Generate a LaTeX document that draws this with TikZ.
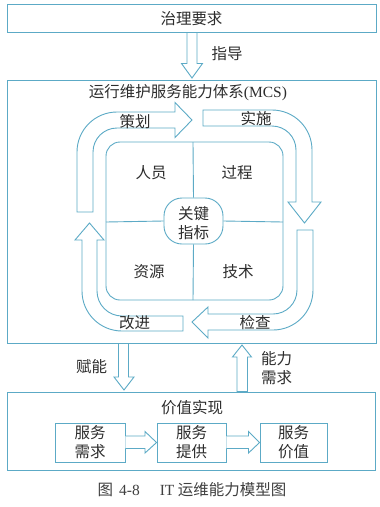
\documentclass[tikz,border=0pt]{standalone}
\usepackage{fontspec}
\setmainfont{Liberation Serif}
\newfontfamily\cjk{Noto Sans CJK SC}
\definecolor{lineblue}{RGB}{92,170,198}
\definecolor{textgray}{RGB}{45,45,45}
\begin{document}
\begin{tikzpicture}[x=1pt,y=-1pt,
  ln/.style={draw=lineblue, line width=0.9pt},
  box/.style={ln, inner sep=0pt},
  lbl/.style={text=textgray, font=\cjk\fontsize{15.5}{19}\selectfont, inner sep=0pt, align=center},
  fatarrow/.style={ln, fill=white, line join=miter}]
\useasboundingbox (0,0) rectangle (380,507);
\fill[white] (0,0) rectangle (380,507);

% outer boxes
\node[box, minimum width=369pt, minimum height=28pt] (gov) at (191.5,18) {};
\node[lbl] (govt) at (191.5,18.5) {治理要求};
\node[box, minimum width=369pt, minimum height=263pt] (mcs) at (191.5,211.5) {};
\node[lbl] (mcst) at (188,93) {运行维护服务能力体系{\rmfamily (MCS)}};
\node[box, minimum width=368pt, minimum height=78pt] (val) at (191,431) {};
\node[lbl] (valt) at (192,408) {价值实现};

% inner square
\draw[ln, rounded corners=14pt] (106,142) rectangle (283,300);
\node[box, rounded corners=18pt, minimum width=59pt, minimum height=46pt] (key) at (193.5,221) {};
\node[lbl] (keyt) at (193.5,223) {关键\\指标};
\draw[ln] (193,142) -- (key.north);
\draw[ln] (key.south) -- (193,300);
\draw[ln] (106,222) -- (key.west);
\draw[ln] (key.east) -- (283,222);
\node[lbl] (p1) at (151,173) {人员};
\node[lbl] (p2) at (237,173) {过程};
\node[lbl] (p3) at (149,272) {资源};
\node[lbl] (p4) at (238,272) {技术};

% cycle arrows
\draw[fatarrow] (77,212) -- (77,152) arc[start angle=180, end angle=270, radius=40]
  -- (175,112) -- (175,102.5) -- (192,120) -- (175,137.5) -- (175,128) -- (117,128)
  arc[start angle=270, end angle=180, radius=24] -- (93,212) -- cycle;
\draw[fatarrow] (203,110) -- (272,110) arc[start angle=270, end angle=360, radius=40]
  -- (312,202) -- (321,202) -- (304.5,223) -- (288,202) -- (296,202) -- (296,150)
  arc[start angle=0, end angle=-90, radius=24] -- (203,126) -- cycle;
\draw[fatarrow] (297,230) -- (313,230) -- (313,290) arc[start angle=0, end angle=90, radius=40]
  -- (208,330) -- (208,338) -- (192,322) -- (208,307) -- (208,314) -- (273,314)
  arc[start angle=90, end angle=0, radius=24] -- cycle;
\draw[fatarrow] (183,316) -- (183,331) -- (122,331) arc[start angle=90, end angle=180, radius=40]
  -- (82,240) -- (75,240) -- (89.5,223) -- (104,240) -- (97,240) -- (97,291)
  arc[start angle=180, end angle=90, radius=25] -- cycle;
\node[lbl] (c1) at (135,121.5) {策划};
\node[lbl] (c2) at (256,119) {实施};
\node[lbl] (c3) at (255,323) {检查};
\node[lbl] (c4) at (134.5,323) {改进};

% straight hollow arrows
\draw[fatarrow] (187,32.5) -- (187,63.5) -- (181.5,63.5) -- (192,78) -- (202.5,63.5) -- (197,63.5) -- (197,32.5) -- cycle;
\node[lbl] (guide) at (227,53.5) {指导};
\draw[fatarrow] (118.5,343.5) -- (118.5,377) -- (114,377) -- (124,390) -- (134,377) -- (128.5,377) -- (128.5,343.5) -- cycle;
\node[lbl] (enable) at (91.5,367) {赋能};
\draw[fatarrow] (237,391.5) -- (237,357) -- (232.5,357) -- (242,345) -- (251.5,357) -- (247.5,357) -- (247.5,391.5) -- cycle;
\node[lbl] (need) at (276.5,368.5) {能力\\需求};

% value chain
\node[box, minimum width=70pt, minimum height=39pt] (b1) at (90,442.5) {};
\node[box, minimum width=69pt, minimum height=39pt] (b2) at (191.5,442.5) {};
\node[box, minimum width=67pt, minimum height=39pt] (b3) at (293.5,442.5) {};
\node[lbl] (b1t) at (b1) {服务\\需求};
\node[lbl] (b2t) at (b2) {服务\\提供};
\node[lbl] (b3t) at (b3) {服务\\价值};
\draw[fatarrow] (b1.east |- 0,436) -- (145,436) -- (145,431.5) -- (b2.west |- 0,442.5) -- (145,453) -- (145,448.5) -- (b1.east |- 0,448.5);
\draw[fatarrow] (b2.east |- 0,436) -- (248.5,436) -- (248.5,431.5) -- (b3.west |- 0,442.5) -- (248.5,453) -- (248.5,448.5) -- (b2.east |- 0,448.5);

% caption
\node[lbl, text=black!75] (cap) at (192,490) {图\hspace{6pt}{\rmfamily 4-8}\hspace{20pt}{\rmfamily IT} 运维能力模型图};
\end{tikzpicture}
\end{document}
